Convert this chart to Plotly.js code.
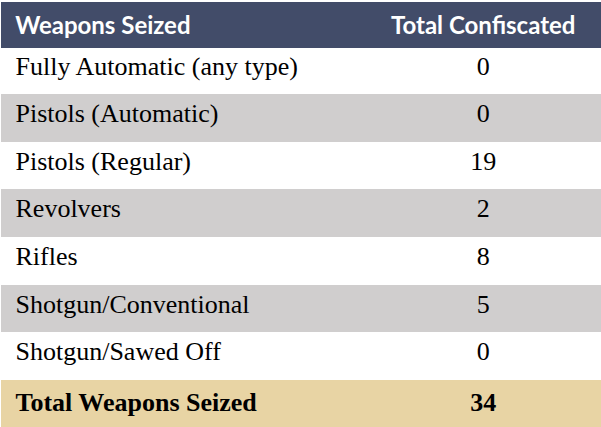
<!DOCTYPE html>
<html>
<head>
<meta charset="utf-8">
<script src="https://cdn.plot.ly/plotly-3.0.1.min.js"></script>
<style>html,body{margin:0;padding:0;background:#fff;}#chart{width:601px;height:427px;}</style>
</head>
<body>
<div id="chart"></div>
<script>
const headers = ["Weapons Seized", "Total Confiscated"];
const weaponTypes = ["Fully Automatic (any type)", "Pistols (Automatic)", "Pistols (Regular)", "Revolvers", "Rifles", "Shotgun/Conventional", "Shotgun/Sawed Off"];
const confiscated = [0, 0, 19, 2, 8, 5, 0];
const totalLabel = "Total Weapons Seized";
const totalValue = 34;

const col1 = weaponTypes.map(t => "\u00a0" + t).concat(["\u00a0<b>" + totalLabel + "</b>"]);
const col2 = confiscated.map(String).concat(["<b>" + totalValue + "</b>"]);
const nRows = col1.length;
const fills = [];
for (let i = 0; i < nRows; i++) {
  if (i === nRows - 1) fills.push("#E8D4A4");
  else fills.push(i % 2 === 0 ? "#FFFFFF" : "#D0CECE");
}

const serif = "'Liberation Serif', 'Times New Roman', Times, serif";

const trace = {
  type: "table",
  columnwidth: [365, 236],
  header: {
    values: ["\u00a0<b>" + headers[0] + "</b>", "<b>" + headers[1] + "</b>"],
    align: ["left", "center"],
    height: 44,
    fill: {color: "#424C69"},
    line: {width: 1, color: "#424C69"},
    font: {family: "Lato", size: 24, color: "#FFFFFF"}
  },
  cells: {
    values: [col1, col2],
    align: ["left", "center"],
    height: 47.6,
    fill: {color: [fills, fills]},
    line: {width: 1, color: [fills, fills]},
    font: {family: serif, size: 26, color: "#000000"}
  },
  domain: {x: [0, 1], y: [0, 1]}
};

Plotly.newPlot("chart", [trace], {
  width: 601, height: 427,
  margin: {l: 1, r: 0, t: 2, b: 0},
  paper_bgcolor: "#FFFFFF"
}, {displayModeBar: false, staticPlot: true});
</script>
</body>
</html>
